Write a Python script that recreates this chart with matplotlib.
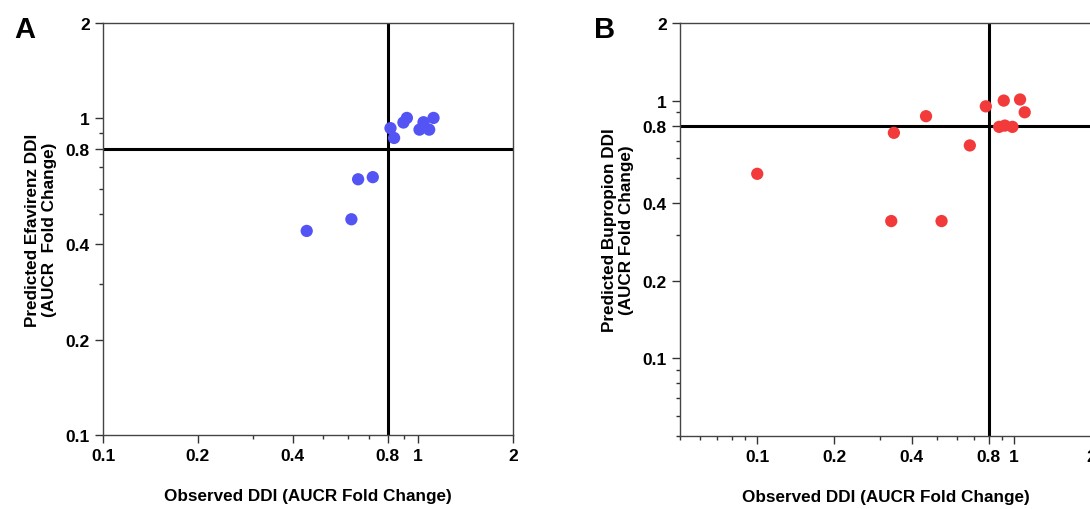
import matplotlib
matplotlib.use("Agg")
import matplotlib.pyplot as plt
from matplotlib.ticker import FixedLocator, NullFormatter

plt.rcParams['font.family'] = ['Liberation Sans', 'DejaVu Sans']
plt.rcParams['font.weight'] = 'bold'

# Panel A - efavirenz
efv_observed = [0.443, 0.614, 0.645, 0.718, 0.817, 0.839, 0.898, 0.921, 1.01, 1.04, 1.084, 1.119]
efv_predicted = [0.441, 0.48, 0.642, 0.652, 0.931, 0.867, 0.970, 1.003, 0.921, 0.972, 0.921, 1.003]

# Panel B - bupropion
bup_observed = [0.1, 0.333, 0.523, 0.341, 0.455, 0.674, 0.778, 0.914, 1.058, 1.103, 0.877, 0.923, 0.988]
bup_predicted = [0.52, 0.341, 0.341, 0.750, 0.870, 0.670, 0.95, 1.0, 1.01, 0.901, 0.791, 0.80, 0.791]

major_ticks = [0.1, 0.2, 0.4, 0.8, 1, 2]
major_labels = ['0.1', '0.2', '0.4', '0.8', '1', '2']
minor_ticks = [0.05, 0.06, 0.07, 0.08, 0.09, 0.3, 0.5, 0.6, 0.7, 0.9]
cutoff = 0.8

blue = '#5454f5'
red = '#f23a3a'


def style_axes(ax, lo, hi):
    ax.set_xscale('log')
    ax.set_yscale('log')
    ax.set_xlim(lo, hi)
    ax.set_ylim(lo, hi)
    for axis in (ax.xaxis, ax.yaxis):
        axis.set_major_locator(FixedLocator([t for t in major_ticks if lo <= t <= hi]))
        axis.set_minor_locator(FixedLocator([t for t in minor_ticks if lo <= t <= hi]))
        axis.set_minor_formatter(NullFormatter())
    kept = [(t, l) for t, l in zip(major_ticks, major_labels) if lo <= t <= hi]
    ax.set_xticklabels([l for _, l in kept])
    ax.set_yticklabels([l for _, l in kept])
    ax.tick_params(which='major', length=5.5, width=1, labelsize=12.5, pad=4, color='#333333')
    ax.tick_params(which='minor', length=3, width=1, color='#333333')
    for s in ax.spines.values():
        s.set_linewidth(1)
        s.set_color('#444444')
    ax.axvline(cutoff, color='black', lw=2.2, zorder=1)
    ax.axhline(cutoff, color='black', lw=2.2, zorder=1)


fig = plt.figure(figsize=(10.9, 5.1), dpi=100)

axA = fig.add_axes([103 / 1090, 74 / 510, 410 / 1090, 412 / 510])
style_axes(axA, 0.1, 2)
axA.scatter(efv_observed, efv_predicted, s=78, color=blue, edgecolors='none', zorder=3)
axA.set_xlabel('Observed DDI (AUCR Fold Change)', fontsize=12.3, fontweight='bold', labelpad=18)
axA.set_ylabel('Predicted Efavirenz DDI\n(AUCR  Fold Change)', fontsize=12.3, fontweight='bold', labelpad=6)

axB = fig.add_axes([680 / 1090, 73 / 510, 411 / 1090, 413 / 510])
style_axes(axB, 0.05, 2)
axB.scatter(bup_observed, bup_predicted, s=78, color=red, edgecolors='none', zorder=3)
axB.set_xlabel('Observed DDI (AUCR Fold Change)', fontsize=12.3, fontweight='bold', labelpad=18)
axB.set_ylabel('Predicted Bupropion DDI\n(AUCR Fold Change)', fontsize=12.3, fontweight='bold', labelpad=6)

fig.text(14 / 1090, 1 - 30 / 510, 'A', fontsize=21, fontweight='bold', va='center')
fig.text(594 / 1090, 1 - 30 / 510, 'B', fontsize=21, fontweight='bold', va='center')

fig.savefig('out.png', dpi=100)
